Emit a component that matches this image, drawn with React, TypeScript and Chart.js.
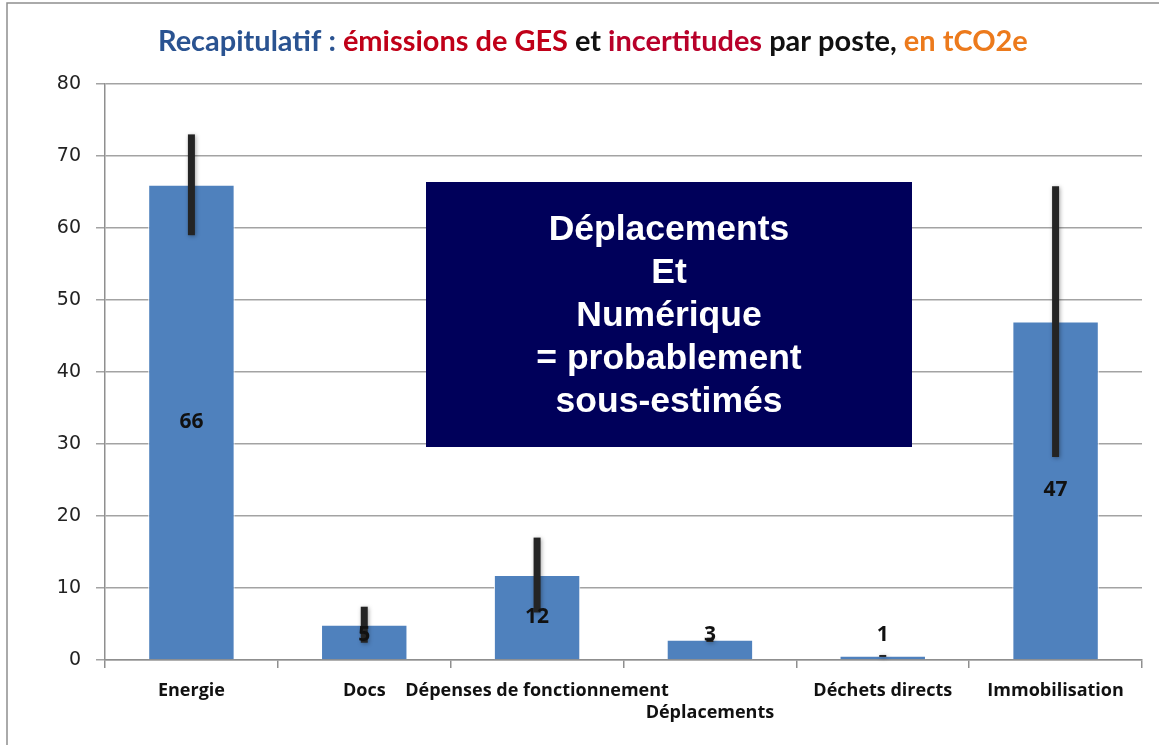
import React, { useEffect, useRef } from 'react';
import { Chart, registerables } from 'chart.js';

Chart.register(...registerables);

// ---- Data ----
const categories = ['Energie', 'Docs', 'Dépenses de fonctionnement', 'Déplacements', 'Déchets directs', 'Immobilisation'];
const emissions = [66, 4.9, 11.8, 2.8, 0.6, 47];
const uncertainty = [7, 2.5, 5.2, 0.3, 0.1, 18.8];
const yMin = 0;
const yMax = 80;
const yStep = 10;

const titleParts = [
  { text: 'Recapitulatif : ', color: '#2A5391' },
  { text: 'émissions de GES', color: '#C00018' },
  { text: ' et ', color: '#111111' },
  { text: 'incertitudes', color: '#B8002A' },
  { text: ' par poste, ', color: '#111111' },
  { text: 'en tCO2e', color: '#EC7A1C' },
];
const noteLines = ['Déplacements', 'Et', 'Numérique', '= probablement', 'sous-estimés'];

const W = 1159;
const H = 745;

const framePlugin = {
  id: 'frame',
  beforeDraw(chart: any) {
    const ctx = chart.ctx;
    ctx.save();
    ctx.fillStyle = '#ffffff';
    ctx.fillRect(0, 0, chart.width, chart.height);
    ctx.strokeStyle = '#8f8f8f';
    ctx.lineWidth = 1.5;
    ctx.beginPath();
    ctx.moveTo(7, H);
    ctx.lineTo(7, 3);
    ctx.lineTo(W, 3);
    ctx.stroke();
    ctx.restore();
  },
};

const titlePlugin = {
  id: 'multiTitle',
  afterDraw(chart: any) {
    const ctx = chart.ctx;
    ctx.save();
    const fam = 'Lato, "Open Sans", sans-serif';
    ctx.font = `bold 22px ${fam}`;
    const full = titleParts.map((p) => p.text).join('');
    const measured = ctx.measureText(full).width;
    const size = (22 * 870) / measured;
    ctx.font = `bold ${size}px ${fam}`;
    let x = 158;
    ctx.textBaseline = 'middle';
    ctx.textAlign = 'left';
    for (const p of titleParts) {
      ctx.fillStyle = p.color;
      ctx.fillText(p.text, x, 42);
      x += ctx.measureText(p.text).width;
    }
    ctx.restore();
  },
};

const errorBarPlugin = {
  id: 'errorBars',
  afterDatasetsDraw(chart: any) {
    const ctx = chart.ctx;
    const meta = chart.getDatasetMeta(0);
    const ys = chart.scales.y;
    ctx.save();
    ctx.strokeStyle = '#242424';
    ctx.lineWidth = 7;
    ctx.lineCap = 'butt';
    ctx.shadowColor = 'rgba(0,0,0,0.35)';
    ctx.shadowBlur = 4;
    ctx.shadowOffsetX = 1;
    ctx.shadowOffsetY = 1;
    meta.data.forEach((bar: any, i: number) => {
      const v = emissions[i];
      const u = uncertainty[i];
      const yTop = ys.getPixelForValue(v + u);
      const yBot = ys.getPixelForValue(Math.max(0, v - u));
      ctx.beginPath();
      ctx.moveTo(bar.x, yTop);
      ctx.lineTo(bar.x, Math.max(yBot, yTop + 2));
      ctx.stroke();
    });
    ctx.restore();

    // value labels
    ctx.save();
    ctx.font = 'bold 21px "Open Sans", sans-serif';
    ctx.fillStyle = '#111111';
    ctx.textAlign = 'center';
    ctx.textBaseline = 'middle';
    meta.data.forEach((bar: any, i: number) => {
      const mid = (bar.y + bar.base) / 2;
      const y = Math.min(mid, bar.base - 24);
      ctx.fillText(String(Math.round(emissions[i])), bar.x, y);
    });
    ctx.restore();
  },
};

const notePlugin = {
  id: 'noteBox',
  afterDraw(chart: any) {
    const ctx = chart.ctx;
    ctx.save();
    const x0 = 426, y0 = 182, x1 = 912, y1 = 447;
    ctx.fillStyle = '#00005A';
    ctx.fillRect(x0, y0, x1 - x0, y1 - y0);
    ctx.fillStyle = '#ffffff';
    ctx.font = 'bold 35.5px "Liberation Sans", Arial, sans-serif';
    ctx.textAlign = 'center';
    ctx.textBaseline = 'middle';
    const cx = (x0 + x1) / 2;
    const lh = 43;
    const cy = (y0 + y1) / 2 + 2;
    noteLines.forEach((line, i) => {
      ctx.fillText(line, cx, cy + (i - (noteLines.length - 1) / 2) * lh);
    });
    ctx.restore();
  },
};

export default function App() {
  const ref = useRef<HTMLCanvasElement | null>(null);

  useEffect(() => {
    if (!ref.current) return;
    const chart = new Chart(ref.current, {
      type: 'bar',
      data: {
        labels: categories,
        datasets: [
          {
            data: emissions,
            backgroundColor: '#4F81BD',
            borderColor: '#ffffff',
            borderWidth: 1,
            barPercentage: 0.5,
            categoryPercentage: 1,
          },
        ],
      },
      options: {
        responsive: false,
        animation: false,
        layout: { padding: { top: 84, left: 8, right: 17, bottom: 0 } },
        plugins: {
          legend: { display: false },
          title: { display: false },
          tooltip: { enabled: false },
        },
        scales: {
          x: {
            afterFit: (s: any) => {
              s.height = 85;
            },
            grid: {
              display: true,
              offset: true,
              drawOnChartArea: false,
              drawTicks: true,
              tickLength: 8,
              color: '#8f8f8f',
              lineWidth: 1.5,
            },
            border: { color: '#8f8f8f', width: 1.5 },
            ticks: {
              color: '#111111',
              font: { family: '"Open Sans", sans-serif', size: 18, weight: 'bold', lineHeight: 1.2 },
              padding: 12,
              maxRotation: 0,
              autoSkip: false,
              callback: function (this: any, _v: any, i: number) {
                const l = categories[i];
                return l === 'Déplacements' ? ['', l] : l;
              },
            },
          },
          y: {
            min: yMin,
            max: yMax,
            afterFit: (s: any) => {
              s.width = 97;
            },
            grid: {
              color: '#a3a3a3',
              lineWidth: 1.5,
              drawTicks: true,
              tickLength: 9,
            },
            border: { color: '#8f8f8f', width: 1.5 },
            ticks: {
              stepSize: yStep,
              color: '#222222',
              font: { family: '"DejaVu Sans", sans-serif', size: 19 },
              padding: 15,
            },
          },
        },
      },
      plugins: [framePlugin, errorBarPlugin, titlePlugin, notePlugin],
    });
    return () => chart.destroy();
  }, []);

  return (
    <div style={{ position: 'fixed', left: 0, top: 0, width: W, height: H, background: '#fff' }}>
      <canvas ref={ref} width={W} height={H} style={{ display: 'block' }} />
    </div>
  );
}
